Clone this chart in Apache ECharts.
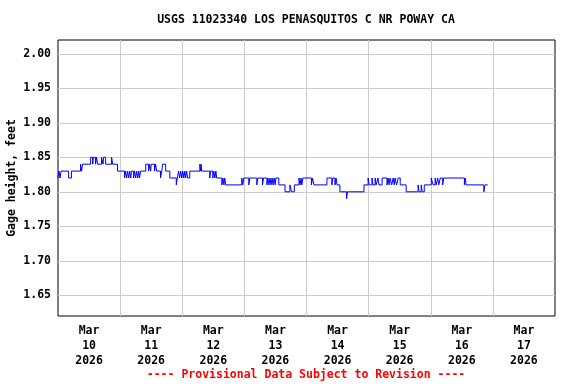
<!DOCTYPE html>
<html>
<head>
<meta charset="utf-8">
<script src="https://cdn.jsdelivr.net/npm/echarts@6/dist/echarts.min.js"></script>
<style>html,body{margin:0;padding:0;background:#fff}#c{width:576px;height:384px}</style>
</head>
<body>
<div id="c"></div>
<script>
// Hours since 2026-03-10 00:00 at which the gage height changes, and the value held from then
var hours = [0,0.4,0.8,1.2,4.1,5.2,8.7,9.1,9.5,12.6,13.4,13.7,14.5,14.9,15.3,16.8,17.4,17.6,18.4,20.7,21.1,23.0,
  25.7,26.1,26.5,26.9,27.3,27.7,28.1,28.4,29.2,29.6,30.0,30.4,30.8,31.2,31.5,31.9,33.9,35.0,35.4,35.8,36.0,
  37.3,37.7,38.1,39.6,40.1,40.4,41.6,43.2,45.7,46.1,46.6,47.0,47.4,47.8,48.2,48.6,49.0,49.3,49.7,50.1,50.9,
  54.8,55.1,55.3,55.5,58.6,59.0,59.8,60.2,60.6,61.0,61.3,63.3,63.7,64.1,64.4,64.8,71.0,71.4,71.8,73.7,74.1,
  76.8,77.2,79.0,79.4,80.7,81.1,81.5,81.9,82.3,82.7,83.1,83.5,83.9,84.2,85.3,87.7,89.6,90.2,91.3,93.1,93.5,
  93.9,94.2,94.6,97.9,98.3,98.9,103.9,105.8,106.2,107.0,107.4,107.8,108.9,111.5,111.8,118.2,119.8,120.2,
  121.3,121.7,122.5,122.9,123.6,124.0,125.2,127.1,127.5,127.9,128.3,128.9,129.5,129.9,130.2,130.8,131.4,
  132.2,134.5,139.1,139.5,140.3,140.7,141.5,144.2,144.9,145.7,146.1,146.7,147.1,147.7,148.6,149.0,157.0,
  157.3,157.7,164.5,164.9,166.0];
var stage = [1.82,1.83,1.82,1.83,1.82,1.83,1.84,1.83,1.84,1.85,1.84,1.85,1.84,1.85,1.84,1.85,1.84,1.85,1.84,1.85,1.84,1.83,
  1.82,1.83,1.82,1.83,1.82,1.83,1.82,1.83,1.82,1.83,1.82,1.83,1.82,1.83,1.82,1.83,1.84,1.83,1.84,1.83,1.84,
  1.83,1.84,1.83,1.82,1.83,1.84,1.83,1.82,1.81,1.82,1.83,1.82,1.83,1.82,1.83,1.82,1.83,1.82,1.83,1.82,1.83,
  1.84,1.83,1.84,1.83,1.82,1.83,1.82,1.83,1.82,1.83,1.82,1.81,1.82,1.81,1.82,1.81,1.82,1.81,1.82,1.81,1.82,
  1.81,1.82,1.81,1.82,1.81,1.82,1.81,1.82,1.81,1.82,1.81,1.82,1.81,1.82,1.81,1.80,1.81,1.80,1.81,1.82,1.81,
  1.82,1.81,1.82,1.81,1.82,1.81,1.82,1.81,1.82,1.81,1.82,1.81,1.80,1.79,1.80,1.81,1.82,1.81,
  1.82,1.81,1.82,1.81,1.82,1.81,1.82,1.81,1.82,1.81,1.82,1.81,1.82,1.81,1.82,1.81,1.82,
  1.81,1.80,1.81,1.80,1.81,1.80,1.81,1.82,1.81,1.82,1.81,1.82,1.81,1.82,1.81,1.82,1.81,
  1.82,1.81,1.80,1.81,1.81];
var yTicks = [1.65,1.70,1.75,1.80,1.85,1.90,1.95,2.00];
var dayGrid = [24,48,72,96,120,144,168];
var dayLabels = ['Mar\n10\n2026','Mar\n11\n2026','Mar\n12\n2026','Mar\n13\n2026','Mar\n14\n2026','Mar\n15\n2026','Mar\n16\n2026','Mar\n17\n2026'];
var titleText = 'USGS 11023340 LOS PENASQUITOS C NR POWAY CA';
var yName = 'Gage height, feet';
var footText = '---- Provisional Data Subject to Revision ----';

var FONT = "'DejaVu Sans Mono', 'Liberation Mono', monospace";
var chart = echarts.init(document.getElementById('c'), null, {renderer: 'canvas'});
chart.setOption({
  animation: false,
  backgroundColor: '#ffffff',
  grid: {left: 58, right: 21, top: 40, bottom: 68, containLabel: false, outerBoundsMode: 'none',
         show: true, borderColor: '#000000', borderWidth: 1, backgroundColor: 'transparent'},
  graphic: [
    {type: 'text', x: 306, y: 20, style: {text: titleText, textAlign: 'center', textVerticalAlign: 'middle',
      font: 'bold 11.5px ' + FONT, fill: '#000'}},
    {type: 'text', x: 306, y: 375, style: {text: footText, textAlign: 'center', textVerticalAlign: 'middle',
      font: 'bold 11.5px ' + FONT, fill: '#ff0000'}}
  ],
  xAxis: [
    {type: 'value', min: 0, max: 192, interval: 24,
     axisLine: {show: false}, axisLabel: {show: false},
     axisTick: {show: false, customValues: dayGrid},
     splitLine: {show: true, lineStyle: {color: '#cccccc', width: 1}}},
    {type: 'category', position: 'bottom', data: dayLabels, boundaryGap: true,
     axisLine: {show: false}, axisTick: {show: false}, splitLine: {show: false},
     axisLabel: {interval: 0, margin: 8, color: '#000', fontFamily: FONT, fontWeight: 'bold',
       fontSize: 11.5, lineHeight: 15}}
  ],
  yAxis: {type: 'value', min: 1.62, max: 2.02,
    name: yName, nameLocation: 'middle', nameGap: 40, nameRotate: 90, nameMoveOverlap: false,
    nameTextStyle: {color: '#000', fontFamily: FONT, fontWeight: 'bold', fontSize: 11.5},
    axisLine: {show: false},
    axisTick: {show: false, customValues: yTicks},
    axisLabel: {customValues: yTicks, margin: 7, color: '#000', fontFamily: FONT, fontWeight: 'bold',
      fontSize: 11.5, formatter: function (v) { return v.toFixed(2); }},
    splitLine: {show: true, lineStyle: {color: '#cccccc', width: 1}}},
  series: [{
    type: 'line', xAxisIndex: 0, step: 'end', showSymbol: false, symbol: 'none',
    lineStyle: {color: '#0000ff', width: 1}, itemStyle: {color: '#0000ff'},
    data: hours.map(function (h, i) { return [h, stage[i]]; })
  }]
});
</script>
</body>
</html>
